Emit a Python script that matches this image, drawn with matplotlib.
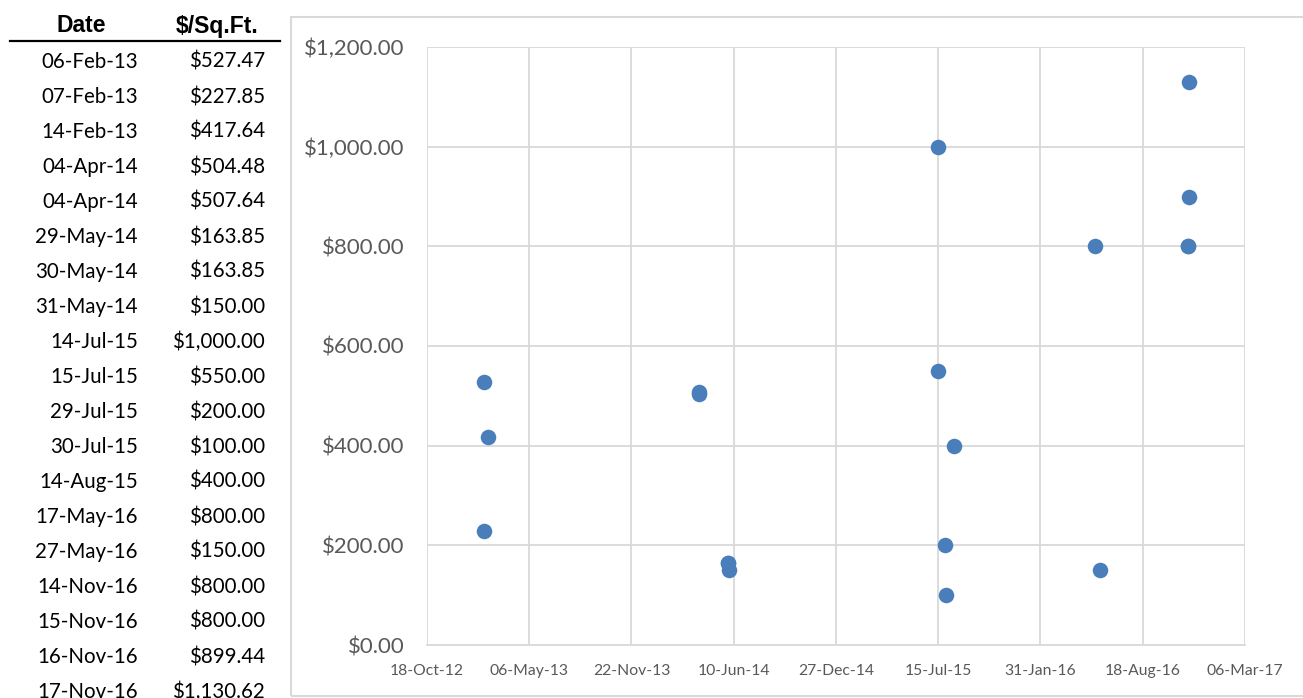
import datetime as dt
import numpy as np
import matplotlib
matplotlib.use('Agg')
import matplotlib.pyplot as plt
import matplotlib.dates as mdates
from matplotlib.patches import Rectangle
from matplotlib.lines import Line2D

# table / chart data
dates = ['06-Feb-13', '07-Feb-13', '14-Feb-13', '04-Apr-14', '04-Apr-14',
         '29-May-14', '30-May-14', '31-May-14', '14-Jul-15', '15-Jul-15',
         '29-Jul-15', '30-Jul-15', '14-Aug-15', '17-May-16', '27-May-16',
         '14-Nov-16', '15-Nov-16', '16-Nov-16', '17-Nov-16']
price = [527.47, 227.85, 417.64, 504.48, 507.64,
         163.85, 163.85, 150.00, 1000.00, 550.00,
         200.00, 100.00, 400.00, 800.00, 150.00,
         800.00, 800.00, 899.44, 1130.62]
yticks = [0, 200, 400, 600, 800, 1000, 1200]
x_start = dt.date(2012, 10, 18)
x_end = dt.date(2017, 3, 6)

W, H = 1303, 698
fig = plt.figure(figsize=(W / 100, H / 100), dpi=100)
fnt = 'Lato'

# table on the left
fig.text(81 / W, 1 - 26 / H, 'Date', ha='center', va='center', fontsize=16.5,
         fontweight='bold', family='Liberation Sans')
fig.text(217 / W, 1 - 26 / H, '$/Sq.Ft.', ha='center', va='center', fontsize=16.5,
         fontweight='bold', family='Liberation Sans')
fig.add_artist(Line2D([10 / W, 280 / W], [1 - 41 / H, 1 - 41 / H], color='black', lw=1.6))
for i, (d, p) in enumerate(zip(dates, price)):
    yy = 1 - (62 + 35 * i) / H
    fig.text(138 / W, yy, d, ha='right', va='center', fontsize=14.8, family=fnt)
    fig.text(265 / W, yy, f'${p:,.2f}', ha='right', va='center', fontsize=14.8, family=fnt)

# chart frame
fig.add_artist(Rectangle((291 / W, 1 - 696 / H), (W + 20 - 291) / W, (696 - 17) / H,
                         fill=False, edgecolor='#D9D9D9', lw=1.5))

ax = fig.add_axes([427 / W, 1 - 645 / H, (1245 - 427) / W, (645 - 47) / H])
xd = [dt.datetime.strptime(d, '%d-%b-%y') for d in dates]
ax.scatter(mdates.date2num(xd), price, s=125, color='#4A7EBB', zorder=3, linewidths=0)

x0, x1 = mdates.date2num(x_start), mdates.date2num(x_end)
ax.set_xlim(x0, x1)
ax.set_xticks(np.arange(x0, x1 + 1, 200))
ax.xaxis.set_major_formatter(mdates.DateFormatter('%d-%b-%y'))
ax.set_ylim(0, 1200)
ax.set_yticks(yticks)
ax.set_yticklabels([f'${v:,.2f}' for v in yticks])
ax.grid(True, color='#D9D9D9', lw=1.3)
ax.set_axisbelow(True)
for s in ['top', 'right', 'left']:
    ax.spines[s].set_visible(False)
ax.spines['bottom'].set_color('#D9D9D9')
ax.spines['bottom'].set_linewidth(1.3)
ax.tick_params(length=0)
ax.tick_params(axis='y', pad=16, labelsize=16, labelcolor='#595959')
ax.tick_params(axis='x', pad=14, labelsize=11.3, labelcolor='#595959')
for lab in ax.get_xticklabels() + ax.get_yticklabels():
    lab.set_family(fnt)

fig.savefig('out.png', dpi=100)
